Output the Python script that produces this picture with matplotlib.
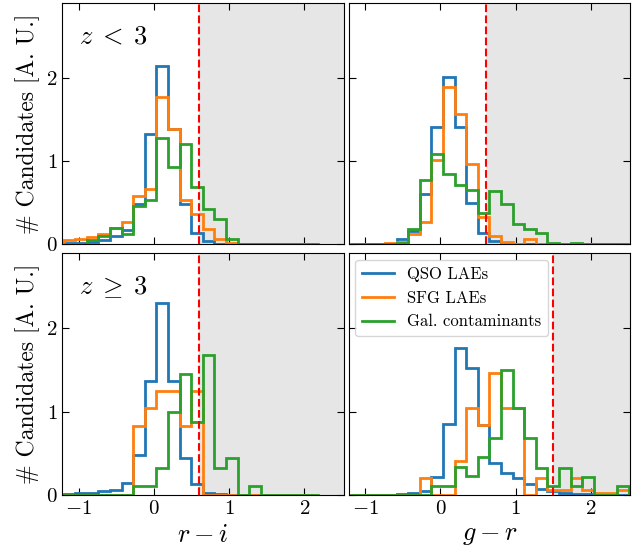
import numpy as np
import matplotlib
matplotlib.use('Agg')
import matplotlib.pyplot as plt
from matplotlib.lines import Line2D

plt.rcParams['font.family'] = 'serif'
plt.rcParams['font.serif'] = ['cmr10']
plt.rcParams['mathtext.fontset'] = 'cm'
plt.rcParams['axes.formatter.use_mathtext'] = True

# bin edges (shared); r-i histograms stop at ~2.2, g-r go to 2.5
edges_gr = np.linspace(-1.2, 2.5, 25)
edges_ri = edges_gr[:23]

# r - i, z < 3
qso_ri_lo = [0.02, 0.02, 0.03, 0.05, 0.10, 0.17, 0.48, 1.32, 2.14, 1.39, 0.49,
             0.14, 0.04, 0.01, 0, 0, 0, 0, 0, 0, 0, 0]
sfg_ri_lo = [0.05, 0.07, 0.09, 0.12, 0.20, 0.27, 0.58, 0.67, 1.77, 1.38, 0.53,
             0.36, 0.18, 0.06, 0.02, 0.01, 0, 0, 0, 0, 0, 0]
gal_ri_lo = [0.01, 0.01, 0.05, 0.10, 0.20, 0.12, 0.46, 0.53, 1.28, 0.93, 1.21,
             0.69, 0.42, 0.30, 0.07, 0, 0, 0, 0, 0, 0, 0]

# g - r, z < 3
qso_gr_lo = [0, 0, 0, 0.01, 0.06, 0.16, 0.60, 1.41, 2.01, 1.41, 0.50, 0.14,
             0.04, 0.01, 0, 0, 0, 0, 0, 0, 0, 0, 0, 0]
sfg_gr_lo = [0, 0, 0, 0.02, 0.03, 0.13, 0.27, 1.01, 1.89, 1.57, 0.97, 0.33,
             0.10, 0.03, 0.01, 0.06, 0.01, 0, 0, 0, 0, 0, 0, 0]
gal_gr_lo = [0, 0, 0, 0.01, 0.02, 0.19, 0.77, 1.08, 0.85, 0.71, 0.65, 0.38,
             0.64, 0.48, 0.24, 0.18, 0.14, 0.02, 0, 0.02, 0, 0, 0, 0]

# r - i, z >= 3
qso_ri_hi = [0.01, 0.02, 0.03, 0.05, 0.06, 0.15, 0.48, 1.37, 2.31, 1.37, 0.45,
             0.13, 0.03, 0.01, 0, 0, 0, 0, 0, 0, 0, 0]
sfg_ri_hi = [0, 0, 0, 0, 0, 0, 0.83, 1.04, 1.25, 1.25, 0.83, 1.25, 0, 0, 0, 0,
             0, 0, 0, 0, 0, 0]
gal_ri_hi = [0, 0, 0, 0, 0, 0, 0.11, 0.11, 0.33, 1.00, 1.45, 0.88, 1.68, 0.33,
             0.44, 0, 0.11, 0, 0, 0, 0, 0]

# g - r, z >= 3
qso_gr_hi = [0, 0, 0, 0, 0.01, 0.02, 0.05, 0.22, 0.85, 1.77, 1.53, 0.84, 0.39,
             0.26, 0.21, 0.13, 0.07, 0.05, 0.02, 0.01, 0.01, 0, 0, 0]
sfg_gr_hi = [0, 0, 0, 0, 0, 0, 0.21, 0, 0, 0.41, 1.04, 0.84, 1.47, 1.04, 1.04,
             0, 0.20, 0.06, 0.06, 0.20, 0.06, 0.02, 0.02, 0.06]
gal_gr_hi = [0, 0, 0, 0, 0, 0, 0, 0.11, 0.11, 0.34, 0.23, 0.46, 0.69, 1.50,
             1.04, 0.68, 0.33, 0.11, 0.33, 0.11, 0.22, 0, 0, 0.11]

labels = ['QSO LAEs', 'SFG LAEs', 'Gal. contaminants']
colors = ['tab:blue', 'tab:orange', 'tab:green']
cuts = {'ri': 0.6, 'gr_lo': 0.6, 'gr_hi': 1.5}

fig, axs = plt.subplots(2, 2, figsize=(6.41, 5.52), dpi=100, sharex=True, sharey=True)
fig.subplots_adjust(left=0.097, right=0.983, bottom=0.103, top=0.995,
                    wspace=0.018, hspace=0.037)

panels = [
    (axs[0, 0], edges_ri, [qso_ri_lo, sfg_ri_lo, gal_ri_lo], cuts['ri']),
    (axs[0, 1], edges_gr, [qso_gr_lo, sfg_gr_lo, gal_gr_lo], cuts['gr_lo']),
    (axs[1, 0], edges_ri, [qso_ri_hi, sfg_ri_hi, gal_ri_hi], cuts['ri']),
    (axs[1, 1], edges_gr, [qso_gr_hi, sfg_gr_hi, gal_gr_hi], cuts['gr_hi']),
]

for ax, edges, series, cut in panels:
    ax.axvspan(cut, 3.0, color='0.9', zorder=0, lw=0)
    for vals, c in zip(series, colors):
        ax.hist(edges[:-1], bins=edges, weights=vals, histtype='step',
                color=c, lw=2, zorder=2)
    ax.axvline(cut, color='red', ls='--', lw=1.5, zorder=3)
    ax.tick_params(direction='in', top=True, right=True, labelsize=15,
                   length=5)

axs[0, 0].set_xlim(-1.22, 2.52)
axs[0, 0].set_ylim(0, 2.9)
axs[0, 0].set_xticks([-1, 0, 1, 2])
axs[0, 0].set_yticks([0, 1, 2])

axs[0, 0].text(0.06, 0.86, r'$z\;<\;3$', transform=axs[0, 0].transAxes,
               fontsize=19, va='center')
axs[1, 0].text(0.06, 0.86, r'$z\;\geq\;3$', transform=axs[1, 0].transAxes,
               fontsize=19, va='center')

for ax in axs[:, 0]:
    ax.set_ylabel('# Candidates [A. U.]', fontsize=17)
axs[1, 0].set_xlabel(r'$r - i$', fontsize=19)
axs[1, 1].set_xlabel(r'$g - r$', fontsize=19)

handles = [Line2D([], [], color=c, lw=2) for c in colors]
leg = axs[1, 1].legend(handles, labels, loc='upper left', fontsize=12,
                       handlelength=1.9, borderaxespad=0.4)
leg.set_zorder(5)

fig.savefig('out.png', dpi=100)
